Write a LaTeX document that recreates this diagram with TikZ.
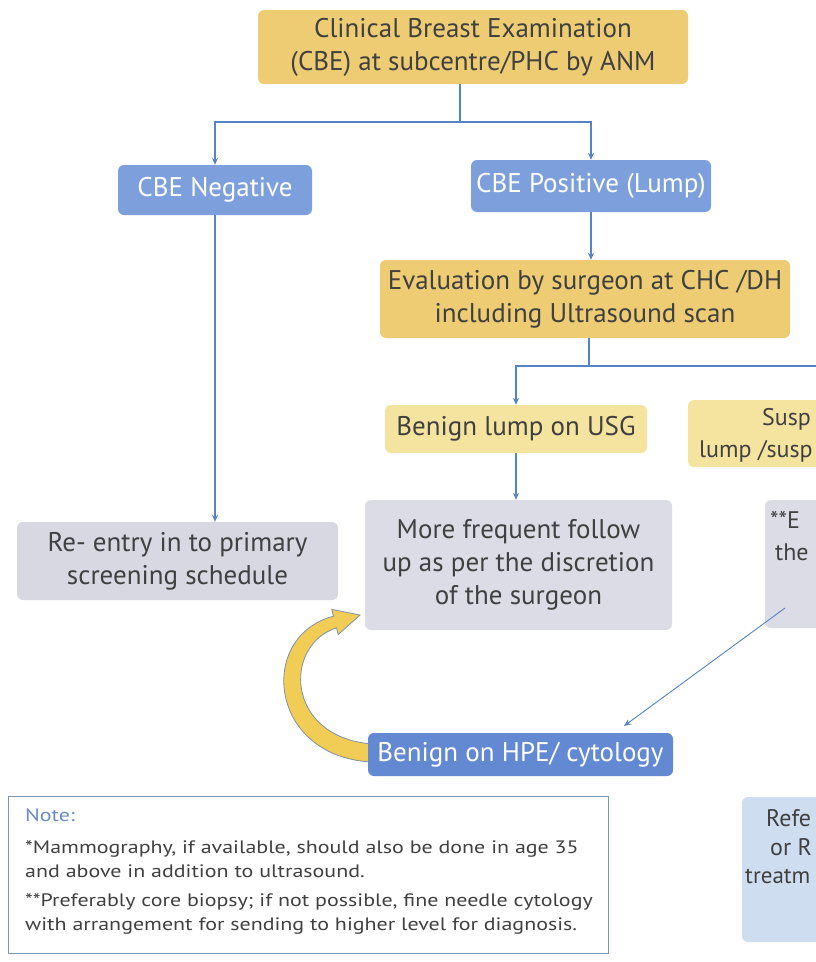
\documentclass[tikz,border=0pt]{standalone}
\usepackage{fontspec}
\setmainfont{PT Sans}
\newfontfamily\notefont[FakeStretch=1.22]{PT Sans}
\usetikzlibrary{arrows.meta}
\definecolor{yel}{HTML}{EDCC74}
\definecolor{lyel}{HTML}{F4E4A0}
\definecolor{blu}{HTML}{7DA0DC}
\definecolor{dblu}{HTML}{6389D3}
\definecolor{gry}{HTML}{DCDCE6}
\definecolor{rgry}{HTML}{D8D8E2}
\definecolor{lblu}{HTML}{CFDDF0}
\definecolor{txt}{HTML}{404040}
\definecolor{lnc}{HTML}{5583C4}
\definecolor{arrfill}{HTML}{F1CD55}
\definecolor{arredge}{HTML}{8090A8}
\definecolor{notebd}{HTML}{7C98B8}
\definecolor{notetx}{HTML}{6A8CC0}
\newcommand{\fsz}{\fontsize{27}{33}\selectfont}
\newcommand{\frsz}{\fontsize{24}{30}\selectfont}
\newcommand{\nsz}{\notefont\fontsize{18}{24}\selectfont}
\tikzset{
  box/.style={rounded corners=6pt, inner sep=0pt, align=center, text=txt, font=\fsz},
  ybox/.style={box, fill=yel},
  lybox/.style={box, fill=lyel},
  bbox/.style={box, fill=blu, text=white},
  hbox/.style={box, fill=dblu, text=white},
  gbox/.style={box, fill=gry},
  rbox/.style={box, fill=rgry},
  fbox/.style={box, fill=lblu},
  frag/.style={anchor=west, inner sep=0pt, text=txt, font=\frsz},
  conn/.style={draw=lnc, line width=1.1pt},
  arr/.style={conn, -{Stealth[length=7pt,width=6pt]}},
}
\begin{document}
\begin{tikzpicture}[x=1pt,y=-1pt]
\useasboundingbox (0,0) rectangle (816,962);
\clip (0,0) rectangle (816,962);
\fill[white] (0,0) rectangle (816,962);

% yellow curved return arrow
\draw[fill=arrfill, draw=arredge, line width=0.8pt]
  (372,762) .. controls (268,757) and (257,636) .. (333.5,616.2)
  -- (331.8,609.4) -- (360,615) -- (338.2,634.6) -- (336.5,627.8)
  .. controls (283,645) and (285,737) .. (372,744) -- cycle;

% nodes
\node[ybox, minimum width=430pt, minimum height=74pt] (top) at (473,47)
  {\fontsize{27}{35}\selectfont Clinical Breast Examination\\(CBE) at subcentre/PHC by ANM};
\node[bbox, minimum width=194pt, minimum height=50pt] (neg) at (215,190) {CBE Negative};
\node[bbox, minimum width=240pt, minimum height=52pt] (pos) at (591,186) {CBE Positive (Lump)};
\node[ybox, minimum width=410pt, minimum height=78pt] (eval) at (585,299)
  {Evaluation by surgeon at CHC /DH\\including Ultrasound scan};
\node[lybox, minimum width=262pt, minimum height=48pt] (benign) at (516,429) {Benign lump on USG};
\node[lybox, minimum width=142pt, minimum height=67pt] (susp) at (759,433.5) {};
\node[frag] (susp1) at (762,419) {Susp};
\node[frag] (susp2) at (699,451) {lump /susp};
\node[gbox, minimum width=307pt, minimum height=130pt] (mf) at (518.5,565)
  {More frequent follow\\up as per the discretion\\of the surgeon};
\node[rbox, minimum width=321pt, minimum height=78pt] (reentry) at (177.5,561)
  {Re- entry in to primary\\screening schedule};
\node[gbox, minimum width=65pt, minimum height=128pt] (ebox) at (797.5,564) {};
\node[frag] (e1) at (770,520) {**E};
\node[frag] (e2) at (775,552) {the};
\node[hbox, minimum width=305pt, minimum height=43pt] (hpe) at (520.5,754.5) {Benign on HPE/ cytology};
\node[fbox, minimum width=88pt, minimum height=145pt] (refe) at (786,869.5) {};
\node[frag] (r1) at (766,818) {Refe};
\node[frag] (r2) at (770,847) {or R};
\node[frag, font=\fontsize{23}{28}\selectfont] (r3) at (745,876) {treatm};

% note box
\node[draw=notebd, line width=1pt, fill=white, rectangle, minimum width=600pt, minimum height=157pt] (note) at (308,874.5) {};
\node[anchor=north west, inner sep=0pt, align=left, text=txt, font=\nsz] (notetext) at (25,808)
  {\textcolor{notetx}{Note:}\\[8pt]
   *Mammography, if available, should also be done in age 35\\
   and above in addition to ultrasound.\\[5pt]
   **Preferably core biopsy; if not possible, fine needle cytology\\
   with arrangement for sending to higher level for diagnosis.};

% connectors
\coordinate (j1) at (460,122);
\draw[conn] (j1 |- top.south) -- (j1);
\draw[arr] (j1) -| (neg.north);
\draw[arr] (j1) -| (pos.north);
\draw[arr] (pos.south) -- (pos.south |- eval.north);
\coordinate (j2) at (589,366);
\coordinate (jr) at (830,366);
\draw[conn] (j2 |- eval.south) -- (j2);
\draw[conn] (j2) -- (jr);
\draw[arr] (j2) -| (benign.north);
\draw[arr] (benign.south) -- (benign.south |- mf.north);
\draw[arr] (neg.south) -- (neg.south |- reentry.north);
\coordinate (ed) at (785,608);
\coordinate (he) at (624,726);
\draw[arr, line width=0.9pt] (ed) -- (he);
\end{tikzpicture}
\end{document}
